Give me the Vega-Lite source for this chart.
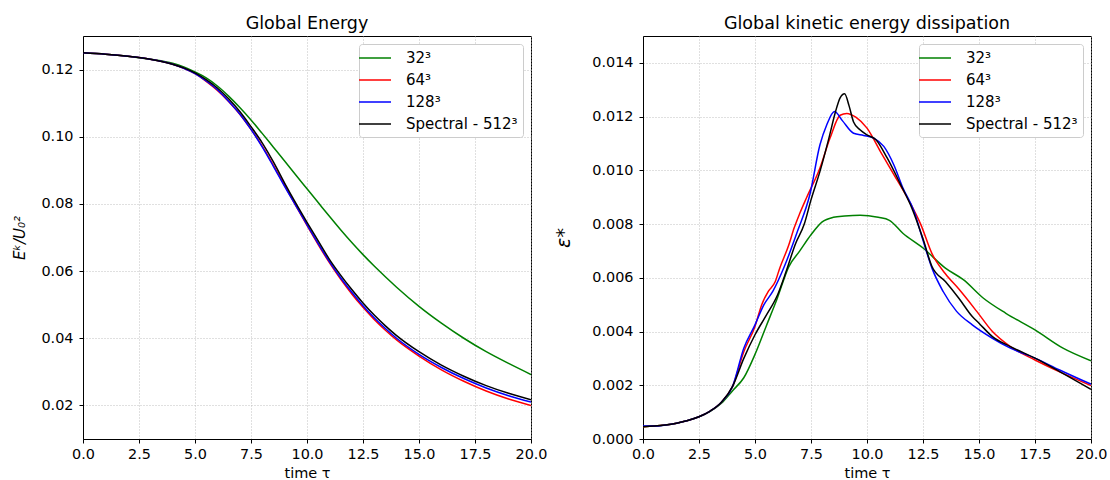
{
  "$schema": "https://vega.github.io/schema/vega-lite/v6.json",
  "padding": {"left": 12, "top": 14, "right": 5, "bottom": 0},
  "spacing": 6,
  "config": {
    "font": "DejaVu Sans",
    "view": {"stroke": "black", "strokeWidth": 1},
    "title": {"fontSize": 17.5, "fontWeight": "normal", "font": "DejaVu Sans", "color": "black", "offset": 4},
    "axis": {
      "labelFont": "DejaVu Sans", "labelFontSize": 14.4, "labelColor": "black",
      "titleFont": "DejaVu Sans", "titleFontSize": 14.5, "titleFontWeight": "normal", "titleColor": "black",
      "domainColor": "black", "domainWidth": 1, "tickColor": "black", "tickSize": 4,
      "gridColor": "#b0b0b0", "gridDash": [1, 2], "gridWidth": 0.8, "labelFlush": false
    },
    "axisX": {"labelPadding": 4, "titlePadding": 6},
    "axisY": {"labelPadding": 6},
    "legend": {
      "orient": "top-right", "offset": 8, "strokeColor": "#cccccc", "fillColor": "white", "cornerRadius": 3,
      "padding": 5, "symbolType": "M-1.75,0H2.25", "symbolSize": 256, "symbolStrokeWidth": 1.5,
      "labelFont": "DejaVu Sans", "labelFontSize": 15, "labelColor": "black", "rowPadding": 5, "labelOffset": 24, "title": null
    }
  },
  "datasets": {
    "energy": [
      {"series": "32³", "t": 0, "value": 0.1250}, {"series": "32³", "t": 1, "value": 0.1246}, {"series": "32³", "t": 2, "value": 0.1240}, {"series": "32³", "t": 3, "value": 0.1231}, {"series": "32³", "t": 4, "value": 0.1219}, {"series": "32³", "t": 4.5, "value": 0.1208}, {"series": "32³", "t": 5, "value": 0.1193}, {"series": "32³", "t": 5.5, "value": 0.1175}, {"series": "32³", "t": 6, "value": 0.1151}, {"series": "32³", "t": 6.5, "value": 0.1121}, {"series": "32³", "t": 7, "value": 0.1087}, {"series": "32³", "t": 7.5, "value": 0.1050}, {"series": "32³", "t": 8, "value": 0.1010}, {"series": "32³", "t": 8.5, "value": 0.0969}, {"series": "32³", "t": 9, "value": 0.0928}, {"series": "32³", "t": 9.5, "value": 0.0886}, {"series": "32³", "t": 10, "value": 0.0845}, {"series": "32³", "t": 10.5, "value": 0.0804}, {"series": "32³", "t": 11, "value": 0.0763}, {"series": "32³", "t": 11.5, "value": 0.0723}, {"series": "32³", "t": 12, "value": 0.0685}, {"series": "32³", "t": 12.5, "value": 0.0649}, {"series": "32³", "t": 13, "value": 0.0615}, {"series": "32³", "t": 14, "value": 0.0552}, {"series": "32³", "t": 15, "value": 0.0495}, {"series": "32³", "t": 16, "value": 0.0445}, {"series": "32³", "t": 17, "value": 0.0400}, {"series": "32³", "t": 18, "value": 0.0360}, {"series": "32³", "t": 19, "value": 0.0325}, {"series": "32³", "t": 20, "value": 0.0292},
      {"series": "64³", "t": 0, "value": 0.1250}, {"series": "64³", "t": 1, "value": 0.1246}, {"series": "64³", "t": 2, "value": 0.1240}, {"series": "64³", "t": 3, "value": 0.1231}, {"series": "64³", "t": 4, "value": 0.1216}, {"series": "64³", "t": 4.5, "value": 0.1204}, {"series": "64³", "t": 5, "value": 0.1188}, {"series": "64³", "t": 5.5, "value": 0.1165}, {"series": "64³", "t": 6, "value": 0.1138}, {"series": "64³", "t": 6.5, "value": 0.1105}, {"series": "64³", "t": 7, "value": 0.1067}, {"series": "64³", "t": 7.5, "value": 0.1022}, {"series": "64³", "t": 8, "value": 0.0972}, {"series": "64³", "t": 8.5, "value": 0.0915}, {"series": "64³", "t": 9, "value": 0.0855}, {"series": "64³", "t": 9.5, "value": 0.0795}, {"series": "64³", "t": 10, "value": 0.0736}, {"series": "64³", "t": 10.5, "value": 0.0679}, {"series": "64³", "t": 11, "value": 0.0625}, {"series": "64³", "t": 11.5, "value": 0.0576}, {"series": "64³", "t": 12, "value": 0.0532}, {"series": "64³", "t": 12.5, "value": 0.0492}, {"series": "64³", "t": 13, "value": 0.0456}, {"series": "64³", "t": 13.5, "value": 0.0424}, {"series": "64³", "t": 14, "value": 0.0395}, {"series": "64³", "t": 15, "value": 0.0347}, {"series": "64³", "t": 16, "value": 0.0306}, {"series": "64³", "t": 17, "value": 0.0272}, {"series": "64³", "t": 18, "value": 0.0243}, {"series": "64³", "t": 19, "value": 0.0219}, {"series": "64³", "t": 20, "value": 0.0200},
      {"series": "128³", "t": 0, "value": 0.1250}, {"series": "128³", "t": 1, "value": 0.1246}, {"series": "128³", "t": 2, "value": 0.1240}, {"series": "128³", "t": 3, "value": 0.1231}, {"series": "128³", "t": 4, "value": 0.1216}, {"series": "128³", "t": 4.5, "value": 0.1204}, {"series": "128³", "t": 5, "value": 0.1188}, {"series": "128³", "t": 5.5, "value": 0.1166}, {"series": "128³", "t": 6, "value": 0.1140}, {"series": "128³", "t": 6.5, "value": 0.1106}, {"series": "128³", "t": 7, "value": 0.1068}, {"series": "128³", "t": 7.5, "value": 0.1022}, {"series": "128³", "t": 8, "value": 0.0970}, {"series": "128³", "t": 8.5, "value": 0.0912}, {"series": "128³", "t": 9, "value": 0.0852}, {"series": "128³", "t": 9.5, "value": 0.0795}, {"series": "128³", "t": 10, "value": 0.0738}, {"series": "128³", "t": 10.5, "value": 0.0682}, {"series": "128³", "t": 11, "value": 0.0628}, {"series": "128³", "t": 11.5, "value": 0.0580}, {"series": "128³", "t": 12, "value": 0.0537}, {"series": "128³", "t": 12.5, "value": 0.0497}, {"series": "128³", "t": 13, "value": 0.0461}, {"series": "128³", "t": 13.5, "value": 0.0429}, {"series": "128³", "t": 14, "value": 0.0400}, {"series": "128³", "t": 15, "value": 0.0352}, {"series": "128³", "t": 16, "value": 0.0313}, {"series": "128³", "t": 17, "value": 0.0280}, {"series": "128³", "t": 18, "value": 0.0252}, {"series": "128³", "t": 19, "value": 0.0229}, {"series": "128³", "t": 20, "value": 0.0210},
      {"series": "Spectral - 512³", "t": 0, "value": 0.1250}, {"series": "Spectral - 512³", "t": 1, "value": 0.1246}, {"series": "Spectral - 512³", "t": 2, "value": 0.1240}, {"series": "Spectral - 512³", "t": 3, "value": 0.1231}, {"series": "Spectral - 512³", "t": 4, "value": 0.1216}, {"series": "Spectral - 512³", "t": 4.5, "value": 0.1205}, {"series": "Spectral - 512³", "t": 5, "value": 0.1190}, {"series": "Spectral - 512³", "t": 5.5, "value": 0.1170}, {"series": "Spectral - 512³", "t": 6, "value": 0.1145}, {"series": "Spectral - 512³", "t": 6.5, "value": 0.1113}, {"series": "Spectral - 512³", "t": 7, "value": 0.1075}, {"series": "Spectral - 512³", "t": 7.5, "value": 0.1030}, {"series": "Spectral - 512³", "t": 8, "value": 0.0982}, {"series": "Spectral - 512³", "t": 8.5, "value": 0.0925}, {"series": "Spectral - 512³", "t": 9, "value": 0.0862}, {"series": "Spectral - 512³", "t": 9.5, "value": 0.0802}, {"series": "Spectral - 512³", "t": 10, "value": 0.0745}, {"series": "Spectral - 512³", "t": 10.5, "value": 0.0690}, {"series": "Spectral - 512³", "t": 11, "value": 0.0635}, {"series": "Spectral - 512³", "t": 11.5, "value": 0.0588}, {"series": "Spectral - 512³", "t": 12, "value": 0.0545}, {"series": "Spectral - 512³", "t": 12.5, "value": 0.0505}, {"series": "Spectral - 512³", "t": 13, "value": 0.0469}, {"series": "Spectral - 512³", "t": 13.5, "value": 0.0437}, {"series": "Spectral - 512³", "t": 14, "value": 0.0408}, {"series": "Spectral - 512³", "t": 15, "value": 0.0360}, {"series": "Spectral - 512³", "t": 16, "value": 0.0320}, {"series": "Spectral - 512³", "t": 17, "value": 0.0287}, {"series": "Spectral - 512³", "t": 18, "value": 0.0259}, {"series": "Spectral - 512³", "t": 19, "value": 0.0236}, {"series": "Spectral - 512³", "t": 20, "value": 0.0217}
    ],
    "diss": [
      {"series": "32³", "t": 0, "value": 0.00046}, {"series": "32³", "t": 0.5, "value": 0.00048}, {"series": "32³", "t": 1, "value": 0.00052}, {"series": "32³", "t": 1.5, "value": 0.00059}, {"series": "32³", "t": 2, "value": 0.00069}, {"series": "32³", "t": 2.5, "value": 0.00083}, {"series": "32³", "t": 3, "value": 0.00103}, {"series": "32³", "t": 3.5, "value": 0.00133}, {"series": "32³", "t": 4, "value": 0.00180}, {"series": "32³", "t": 4.5, "value": 0.00228}, {"series": "32³", "t": 5, "value": 0.00315}, {"series": "32³", "t": 5.5, "value": 0.00420}, {"series": "32³", "t": 6, "value": 0.00525}, {"series": "32³", "t": 6.5, "value": 0.00640}, {"series": "32³", "t": 7, "value": 0.00700}, {"series": "32³", "t": 7.5, "value": 0.00760}, {"series": "32³", "t": 8, "value": 0.00808}, {"series": "32³", "t": 8.5, "value": 0.00825}, {"series": "32³", "t": 9, "value": 0.00830}, {"series": "32³", "t": 9.7, "value": 0.00833}, {"series": "32³", "t": 10.5, "value": 0.00825}, {"series": "32³", "t": 11, "value": 0.00814}, {"series": "32³", "t": 11.6, "value": 0.00766}, {"series": "32³", "t": 12.5, "value": 0.00711}, {"series": "32³", "t": 13.5, "value": 0.00636}, {"series": "32³", "t": 14.3, "value": 0.00593}, {"series": "32³", "t": 15.2, "value": 0.00524}, {"series": "32³", "t": 16.2, "value": 0.00468}, {"series": "32³", "t": 17.5, "value": 0.00406}, {"series": "32³", "t": 18.75, "value": 0.00338}, {"series": "32³", "t": 20, "value": 0.00291},
      {"series": "64³", "t": 0, "value": 0.00046}, {"series": "64³", "t": 0.5, "value": 0.00048}, {"series": "64³", "t": 1, "value": 0.00052}, {"series": "64³", "t": 1.5, "value": 0.00059}, {"series": "64³", "t": 2, "value": 0.00069}, {"series": "64³", "t": 2.5, "value": 0.00083}, {"series": "64³", "t": 3, "value": 0.00104}, {"series": "64³", "t": 3.5, "value": 0.00137}, {"series": "64³", "t": 4, "value": 0.00196}, {"series": "64³", "t": 4.5, "value": 0.00325}, {"series": "64³", "t": 5, "value": 0.00419}, {"series": "64³", "t": 5.3, "value": 0.00500}, {"series": "64³", "t": 5.6, "value": 0.00550}, {"series": "64³", "t": 5.9, "value": 0.00585}, {"series": "64³", "t": 6.1, "value": 0.00635}, {"series": "64³", "t": 6.5, "value": 0.00720}, {"series": "64³", "t": 6.75, "value": 0.00786}, {"series": "64³", "t": 7.0, "value": 0.00840}, {"series": "64³", "t": 7.3, "value": 0.00898}, {"series": "64³", "t": 7.9, "value": 0.01009}, {"series": "64³", "t": 8.35, "value": 0.01120}, {"series": "64³", "t": 8.8, "value": 0.01205}, {"series": "64³", "t": 9.1, "value": 0.01212}, {"series": "64³", "t": 9.5, "value": 0.01198}, {"series": "64³", "t": 10.0, "value": 0.01157}, {"series": "64³", "t": 10.6, "value": 0.01070}, {"series": "64³", "t": 11.2, "value": 0.00984}, {"series": "64³", "t": 11.8, "value": 0.00898}, {"series": "64³", "t": 12.4, "value": 0.00799}, {"series": "64³", "t": 12.9, "value": 0.00690}, {"series": "64³", "t": 13.5, "value": 0.00615}, {"series": "64³", "t": 14.1, "value": 0.00558}, {"series": "64³", "t": 14.9, "value": 0.00475}, {"series": "64³", "t": 15.6, "value": 0.00400}, {"series": "64³", "t": 16.4, "value": 0.00344}, {"series": "64³", "t": 17.5, "value": 0.00294}, {"series": "64³", "t": 18.6, "value": 0.00250}, {"series": "64³", "t": 20, "value": 0.00199},
      {"series": "128³", "t": 0, "value": 0.00048}, {"series": "128³", "t": 0.5, "value": 0.00048}, {"series": "128³", "t": 1, "value": 0.00052}, {"series": "128³", "t": 1.5, "value": 0.00059}, {"series": "128³", "t": 2, "value": 0.00069}, {"series": "128³", "t": 2.5, "value": 0.00083}, {"series": "128³", "t": 3, "value": 0.00104}, {"series": "128³", "t": 3.5, "value": 0.00137}, {"series": "128³", "t": 4, "value": 0.00196}, {"series": "128³", "t": 4.5, "value": 0.00338}, {"series": "128³", "t": 5, "value": 0.00425}, {"series": "128³", "t": 5.4, "value": 0.00500}, {"series": "128³", "t": 5.8, "value": 0.00550}, {"series": "128³", "t": 6.3, "value": 0.00640}, {"series": "128³", "t": 6.9, "value": 0.00774}, {"series": "128³", "t": 7.45, "value": 0.00910}, {"series": "128³", "t": 7.9, "value": 0.01095}, {"series": "128³", "t": 8.2, "value": 0.01169}, {"series": "128³", "t": 8.55, "value": 0.01219}, {"series": "128³", "t": 8.9, "value": 0.01185}, {"series": "128³", "t": 9.4, "value": 0.01138}, {"series": "128³", "t": 9.85, "value": 0.01130}, {"series": "128³", "t": 10.3, "value": 0.01120}, {"series": "128³", "t": 10.75, "value": 0.01089}, {"series": "128³", "t": 11.2, "value": 0.01020}, {"series": "128³", "t": 11.6, "value": 0.00935}, {"series": "128³", "t": 12.1, "value": 0.00848}, {"series": "128³", "t": 12.5, "value": 0.00740}, {"series": "128³", "t": 12.9, "value": 0.00636}, {"series": "128³", "t": 13.4, "value": 0.00549}, {"series": "128³", "t": 14.0, "value": 0.00475}, {"series": "128³", "t": 14.7, "value": 0.00425}, {"series": "128³", "t": 15.6, "value": 0.00375}, {"series": "128³", "t": 16.4, "value": 0.00338}, {"series": "128³", "t": 17.5, "value": 0.00301}, {"series": "128³", "t": 18.6, "value": 0.00257}, {"series": "128³", "t": 20, "value": 0.00204},
      {"series": "Spectral - 512³", "t": 0, "value": 0.00046}, {"series": "Spectral - 512³", "t": 0.5, "value": 0.00048}, {"series": "Spectral - 512³", "t": 1, "value": 0.00052}, {"series": "Spectral - 512³", "t": 1.5, "value": 0.00059}, {"series": "Spectral - 512³", "t": 2, "value": 0.00069}, {"series": "Spectral - 512³", "t": 2.5, "value": 0.00083}, {"series": "Spectral - 512³", "t": 3, "value": 0.00104}, {"series": "Spectral - 512³", "t": 3.5, "value": 0.00137}, {"series": "Spectral - 512³", "t": 4, "value": 0.00196}, {"series": "Spectral - 512³", "t": 4.5, "value": 0.00300}, {"series": "Spectral - 512³", "t": 5, "value": 0.00388}, {"series": "Spectral - 512³", "t": 5.5, "value": 0.00460}, {"series": "Spectral - 512³", "t": 6, "value": 0.00535}, {"series": "Spectral - 512³", "t": 6.4, "value": 0.00626}, {"series": "Spectral - 512³", "t": 6.8, "value": 0.00725}, {"series": "Spectral - 512³", "t": 7.2, "value": 0.00800}, {"series": "Spectral - 512³", "t": 7.5, "value": 0.00890}, {"series": "Spectral - 512³", "t": 7.9, "value": 0.00996}, {"series": "Spectral - 512³", "t": 8.3, "value": 0.01120}, {"series": "Spectral - 512³", "t": 8.6, "value": 0.01220}, {"series": "Spectral - 512³", "t": 8.8, "value": 0.01270}, {"series": "Spectral - 512³", "t": 9.0, "value": 0.01285}, {"series": "Spectral - 512³", "t": 9.2, "value": 0.01240}, {"series": "Spectral - 512³", "t": 9.4, "value": 0.01180}, {"series": "Spectral - 512³", "t": 9.7, "value": 0.01150}, {"series": "Spectral - 512³", "t": 10.0, "value": 0.01132}, {"series": "Spectral - 512³", "t": 10.4, "value": 0.01114}, {"series": "Spectral - 512³", "t": 10.9, "value": 0.01046}, {"series": "Spectral - 512³", "t": 11.5, "value": 0.00947}, {"series": "Spectral - 512³", "t": 12.0, "value": 0.00860}, {"series": "Spectral - 512³", "t": 12.5, "value": 0.00745}, {"series": "Spectral - 512³", "t": 12.9, "value": 0.00642}, {"series": "Spectral - 512³", "t": 13.5, "value": 0.00586}, {"series": "Spectral - 512³", "t": 14.1, "value": 0.00524}, {"series": "Spectral - 512³", "t": 14.7, "value": 0.00456}, {"series": "Spectral - 512³", "t": 15.0, "value": 0.00431}, {"series": "Spectral - 512³", "t": 15.6, "value": 0.00381}, {"series": "Spectral - 512³", "t": 16.4, "value": 0.00344}, {"series": "Spectral - 512³", "t": 17.5, "value": 0.00301}, {"series": "Spectral - 512³", "t": 18.6, "value": 0.00251}, {"series": "Spectral - 512³", "t": 20, "value": 0.00185}
    ]
  },
  "resolve": {"scale": {"color": "independent", "y": "independent"}, "legend": {"color": "independent"}},
  "hconcat": [
    {
      "width": 448, "height": 403,
      "title": "Global Energy",
      "data": {"name": "energy"},
      "mark": {"type": "line", "strokeWidth": 1.5, "interpolate": "monotone", "clip": true},
      "encoding": {
        "x": {"field": "t", "type": "quantitative", "scale": {"domain": [0, 20], "nice": false},
              "axis": {"title": "time τ", "values": [0, 2.5, 5, 7.5, 10, 12.5, 15, 17.5, 20], "format": ".1f"}},
        "y": {"field": "value", "type": "quantitative", "scale": {"domain": [0.01, 0.13], "nice": false, "zero": false},
              "axis": {"title": "Eᵏ/U₀²", "titleFontStyle": "italic", "titleFontSize": 15, "values": [0.02, 0.04, 0.06, 0.08, 0.1, 0.12], "format": ".2f", "titlePadding": 13}},
        "color": {"field": "series", "type": "nominal",
                  "scale": {"domain": ["32³", "64³", "128³", "Spectral - 512³"], "range": ["#008000", "#ff0000", "#0000ff", "#000000"]},
                  "legend": {"orient": "top-right"}},
        "order": {"field": "t", "type": "quantitative"}
      }
    },
    {
      "width": 448, "height": 403,
      "title": "Global kinetic energy dissipation",
      "data": {"name": "diss"},
      "mark": {"type": "line", "strokeWidth": 1.5, "interpolate": "monotone", "clip": true},
      "encoding": {
        "x": {"field": "t", "type": "quantitative", "scale": {"domain": [0, 20], "nice": false},
              "axis": {"title": "time τ", "values": [0, 2.5, 5, 7.5, 10, 12.5, 15, 17.5, 20], "format": ".1f"}},
        "y": {"field": "value", "type": "quantitative", "scale": {"domain": [0, 0.015], "nice": false},
              "axis": {"title": "ε*", "titleFontStyle": "italic", "titleFontSize": 19, "values": [0, 0.002, 0.004, 0.006, 0.008, 0.01, 0.012, 0.014], "format": ".3f", "titlePadding": 18}},
        "color": {"field": "series", "type": "nominal",
                  "scale": {"domain": ["32³", "64³", "128³", "Spectral - 512³"], "range": ["#008000", "#ff0000", "#0000ff", "#000000"]},
                  "legend": {"orient": "top-right"}},
        "order": {"field": "t", "type": "quantitative"}
      }
    }
  ]
}
